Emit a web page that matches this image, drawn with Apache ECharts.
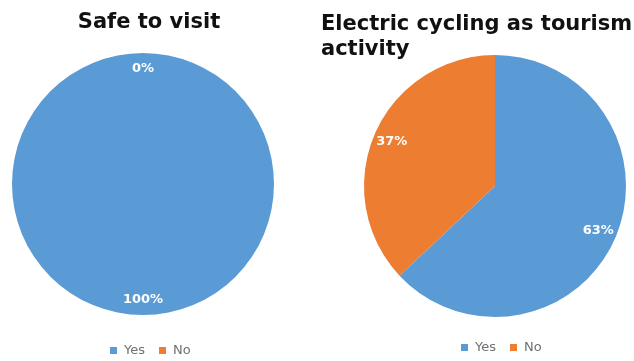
<!DOCTYPE html>
<html>
<head>
<meta charset="utf-8">
<script src="https://cdn.jsdelivr.net/npm/echarts@6/dist/echarts.min.js"></script>
<style>html,body{margin:0;padding:0;background:#fff;}#c{width:634px;height:361px;}</style>
</head>
<body>
<div id="c"></div>
<script>
const categories = ['Yes', 'No'];
const safeValues = [100, 0];
const cyclingValues = [63, 37];
const chartTitles = ['Safe to visit', 'Electric cycling as tourism\nactivity'];
const colors = ['#5B9BD5', '#ED7D31'];

function toData(vals) {
  return categories.map((c, i) => ({ name: c, value: vals[i] }));
}
function pctFormatter(vals) {
  const total = vals.reduce((a, b) => a + b, 0);
  return p => Math.round(p.value / total * 100) + '%';
}
const FONT = '"DejaVu Sans", Verdana, sans-serif';

function piePair(vals, center, r, labelInner) {
  return [
    {
      type: 'pie', center: center, radius: [0, r], startAngle: 90, clockwise: true,
      data: toData(vals), label: { show: false }, labelLine: { show: false },
      itemStyle: { borderWidth: 0 },
      emphasis: { disabled: true }, animation: false
    },
    {
      type: 'pie', center: center, radius: [labelInner, r], startAngle: 90, clockwise: true,
      data: toData(vals), silent: true, animation: false,
      itemStyle: { color: 'transparent', borderWidth: 0 },
      emphasis: { disabled: true },
      label: { show: true, position: 'inside', formatter: pctFormatter(vals),
        color: '#fff', fontFamily: FONT, fontSize: 13, fontWeight: 'bold' },
      labelLine: { show: false }
    }
  ];
}

const legendText = { fontFamily: FONT, fontSize: 13, color: '#707070', padding: [0, 0, 0, 2] };

const chart = echarts.init(document.getElementById('c'), null, { renderer: 'canvas' });
chart.setOption({
  color: colors,
  animation: false,
  title: [
    { text: chartTitles[0], left: 144, top: 7, textAlign: 'center',
      textStyle: { fontFamily: FONT, fontSize: 21, fontWeight: 'bold', color: '#111' } },
    { text: chartTitles[1], left: 316, top: 7,
      textStyle: { fontFamily: FONT, fontSize: 21, fontWeight: 'bold', color: '#111', lineHeight: 25 } }
  ],
  legend: [
    { left: 105, top: 339, icon: 'rect', itemWidth: 7, itemHeight: 7, itemGap: 14, data: categories,
      textStyle: legendText },
    { left: 456, top: 336, icon: 'rect', itemWidth: 7, itemHeight: 7, itemGap: 14, data: categories,
      textStyle: legendText }
  ],
  series: [
    ...piePair(safeValues, [143, 184], 131, 94),
    ...piePair(cyclingValues, [495, 186], 131, 88)
  ]
});
</script>
</body>
</html>
